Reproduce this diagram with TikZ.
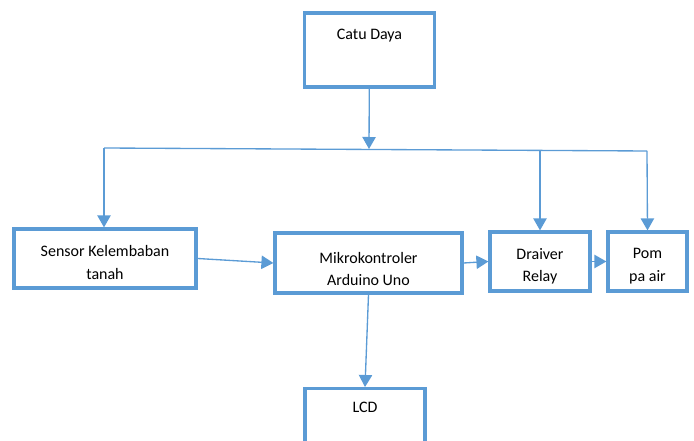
\documentclass[tikz,border=0pt]{standalone}
\usepackage{fontspec}
\setmainfont{Carlito}
\usetikzlibrary{positioning, arrows.meta, calc}
\definecolor{biru}{RGB}{91,155,213}
\tikzset{
  diagram/.style={
	x=0.75pt, y=-0.75pt, % one unit is one pixel of the reference
	>={Triangle[width=10pt,length=9pt]}, % filled heads
	every node/.style={font=\fontsize{12}{17}\selectfont, text=black},
  },
  blok/.style={draw=biru, line width=2.4pt, rectangle, inner sep=0pt}, % the boxes
  panah/.style={->, draw=biru, line width=1pt}, % the connectors
}
\begin{document}
\begin{tikzpicture}[diagram]
	  \clip (0,0) rectangle (694,441);

	  \node[blok, minimum width=98pt, minimum height=55.5pt,
		label={[yshift=11pt]center:Catu Daya}] (catu) at (369.5,50) {};
	  \node[blok, minimum width=136.5pt, minimum height=44.25pt,
		label={[align=center, yshift=-3pt]center:Sensor Kelembaban\\tanah}] (sensor) at (105,258.5) {};
	  \node[blok, minimum width=140.25pt, minimum height=45pt,
		label={[align=center, yshift=-4.5pt]center:Mikrokontroler\\Arduino Uno}] (mikro) at (368.5,263) {};
	  \node[blok, minimum width=75pt, minimum height=44.25pt,
		label={[align=center, yshift=-3.5pt]center:Draiver\\Relay}] (drv) at (540,261.5) {};
	  \node[blok, minimum width=59.25pt, minimum height=44.25pt,
		label={[align=center, yshift=-3.5pt]center:Pom\\pa air}] (pompa) at (647.5,261.5) {};
	  \node[blok, anchor=north, minimum width=90pt, minimum height=55.5pt,
		label={[yshift=-23pt]north:LCD}] (lcd) at (365,387) {};

	  % power bus
	  \coordinate (cabang) at (369,149);
	  \coordinate (kiri) at (104,148);
	  \coordinate (kanan) at (647,151);
	  \coordinate (tengah) at (540,150.5);

	  \draw[panah] (catu) -- (cabang);
	  \draw[biru, line width=1pt] (kiri) -- (kanan);
	  \draw[panah] (kiri) -- (kiri |- sensor.north);
	  \draw[panah] (tengah) -- (drv.north);
	  \draw[panah] (kanan) -- (pompa.north);

	  \draw[panah] (sensor.east) -- (mikro.west);
	  \draw[panah] (mikro.east) -- (drv.west);
	  \draw[panah] (drv.east) -- (pompa.west);
	  \draw[panah] (mikro.south) -- (lcd.north);
\end{tikzpicture}
\end{document}
